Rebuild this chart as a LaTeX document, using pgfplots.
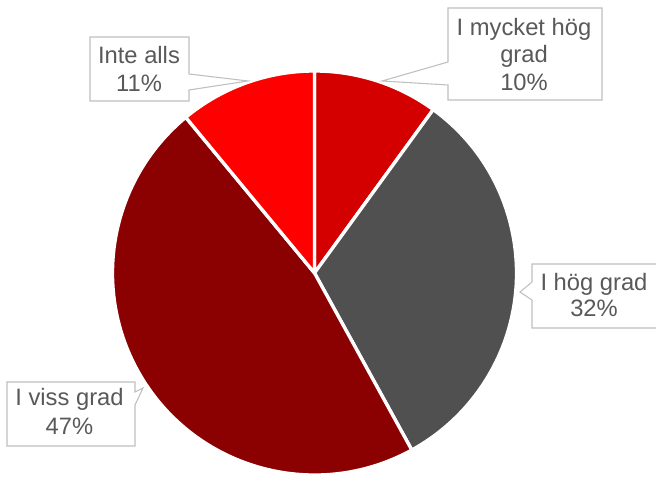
\documentclass[border=0pt]{standalone}
\usepackage{fontspec}
\setmainfont{Liberation Sans}
\usepackage{pgfplots}
\usepackage{pgfplotstable}
\pgfplotsset{compat=1.18}
\definecolor{cA}{HTML}{D40000}
\definecolor{cB}{HTML}{505050}
\definecolor{cC}{HTML}{8B0000}
\definecolor{cD}{HTML}{FF0000}
\definecolor{bord}{HTML}{BFBFBF}
\definecolor{txt}{HTML}{595959}
\pgfplotstableread{
pct
10
32
47
11
}\piedata
\begin{document}
\begin{tikzpicture}
\path[use as bounding box] (0,0) rectangle (492pt,357.75pt);
\pgfplotstablegetelem{0}{pct}\of\piedata \let\pA\pgfplotsretval
\pgfplotstablegetelem{1}{pct}\of\piedata \let\pB\pgfplotsretval
\pgfplotstablegetelem{2}{pct}\of\piedata \let\pC\pgfplotsretval
\pgfplotstablegetelem{3}{pct}\of\piedata \let\pD\pgfplotsretval
\pgfmathsetmacro\aA{90}
\pgfmathsetmacro\aB{90-3.6*\pA}
\pgfmathsetmacro\aC{\aB-3.6*\pB}
\pgfmathsetmacro\aD{\aC-3.6*\pC}
\pgfmathsetmacro\aE{\aD-3.6*\pD}
\begin{axis}[x=0.75pt,y=0.75pt,xmin=0,xmax=656,ymin=0,ymax=477,
  hide axis,scale only axis,clip=false,at={(0,0)},anchor=south west]
\def\sl#1#2#3{\fill[#1, draw=white, line width=2.5pt, line join=round]
  (axis cs:314.5,204) -- ++(#2:151.5pt) arc[start angle=#2, end angle=#3, radius=151.5pt] -- cycle;}
\sl{cA}{\aA}{\aB}
\sl{cB}{\aB}{\aC}
\sl{cC}{\aC}{\aD}
\sl{cD}{\aD}{\aE}
% callouts
\draw[bord, fill=white, line width=0.8pt] (axis cs:448,469) -- (axis cs:602,469) -- (axis cs:602,377) -- (axis cs:448,377) -- (axis cs:448,392) -- (axis cs:382,396) -- (axis cs:448,415) -- cycle;
\draw[bord, fill=white, line width=0.8pt] (axis cs:90,440) -- (axis cs:189,440) -- (axis cs:189,403) -- (axis cs:248,396) -- (axis cs:189,387) -- (axis cs:189,376) -- (axis cs:90,376) -- cycle;
\draw[bord, fill=white, line width=0.8pt] (axis cs:532,213) -- (axis cs:700,213) -- (axis cs:700,149) -- (axis cs:532,149) -- (axis cs:532,177) -- (axis cs:520,185) -- (axis cs:532,195) -- cycle;
\draw[bord, fill=white, line width=0.8pt] (axis cs:7,95) -- (axis cs:135,95) -- (axis cs:135,85) -- (axis cs:143,89) -- (axis cs:135,72) -- (axis cs:135,31) -- (axis cs:7,31) -- cycle;
\tikzset{lab/.style={anchor=base, text=txt, font=\fontsize{17.8}{21}\selectfont, inner sep=0pt}}
\node[lab] at (axis cs:524,441) {I mycket hög};
\node[lab] at (axis cs:524,414) {grad};
\node[lab] at (axis cs:524,386) {10\%};
\node[lab] at (axis cs:139,413) {Inte alls};
\node[lab] at (axis cs:139,385) {11\%};
\node[lab] at (axis cs:594,186) {I hög grad};
\node[lab] at (axis cs:594,160) {32\%};
\node[lab] at (axis cs:69.5,71) {I viss grad};
\node[lab] at (axis cs:69.5,42) {47\%};
\end{axis}
\end{tikzpicture}
\end{document}
